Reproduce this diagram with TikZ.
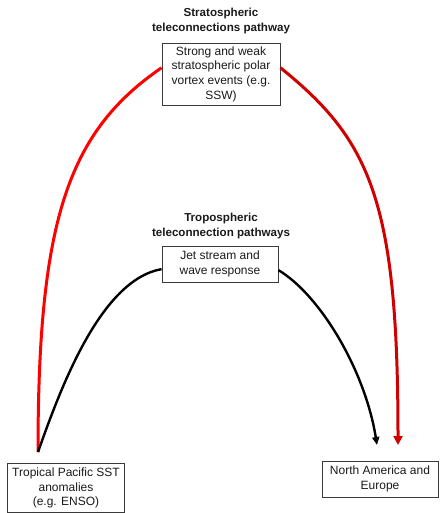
\documentclass[tikz,border=0pt]{standalone}
\usepackage{fontspec}
\setmainfont{Liberation Sans}
\usetikzlibrary{arrows.meta}
\definecolor{inkline}{HTML}{1A1A1A}
\definecolor{boxedge}{HTML}{3A3A3A}
\definecolor{stratred}{HTML}{FF0000}
\definecolor{stratdark}{HTML}{D00000}

\begin{document}
\begin{tikzpicture}[
  x=1pt, y=-1pt,
  box/.style={draw=boxedge, line width=0.9pt, fill=white, align=center, inner sep=0pt,
              text=inkline, font=\fontsize{12}{14.6}\selectfont},
  ttl/.style={align=center, inner sep=0pt, text=inkline,
              font=\fontsize{11.6}{14.6}\selectfont\bfseries},
  redpath/.style={draw=stratred, line width=3pt},
  darkpath/.style={draw=stratdark, line width=3pt, -{Triangle[length=9pt,width=9pt]}},
  tropath/.style={draw=black, line width=2.4pt},
]
\useasboundingbox (0,0) rectangle (439,513);

% ---- titles ----
\node[ttl] (sttl) at (221,21)  {Stratospheric\\teleconnections pathway};
\node[ttl] (tttl) at (221,226) {Tropospheric\\teleconnection pathways};

% ---- boxes ----
\node[box, minimum width=118, minimum height=62] (strat) at (221,74)
  {Strong and weak\\stratospheric polar\\vortex events (e.g.\\SSW)};
\node[box, minimum width=116, minimum height=36] (trop) at (220,264)
  {Jet stream and\\wave response};
\node[box, minimum width=117, minimum height=49] (sst) at (66,488)
  {Tropical Pacific SST\\anomalies\\(e.g. ENSO)};
\node[box, minimum width=116, minimum height=36] (nae) at (380,479)
  {North America and\\Europe};

% ---- free ends ----
\coordinate (src)  at (38,452);
\coordinate (tipb) at (377,445);
\coordinate (tipr) at (398,445);

% ---- stratospheric pathway ----
\draw[redpath] (src) .. controls (38,220) and (68,132) .. (strat.174);
\draw[darkpath] (strat.6) .. controls (370,140) and (398,200) .. (tipr);

% ---- tropospheric pathway ----
\draw[tropath] (src) .. controls (60,390) and (100,280) .. (trop.185);
\draw[tropath, -{Triangle[length=8pt,width=7pt]}] (trop.-6) .. controls (320,295) and (365,370) .. (tipb);

\end{tikzpicture}
\end{document}
